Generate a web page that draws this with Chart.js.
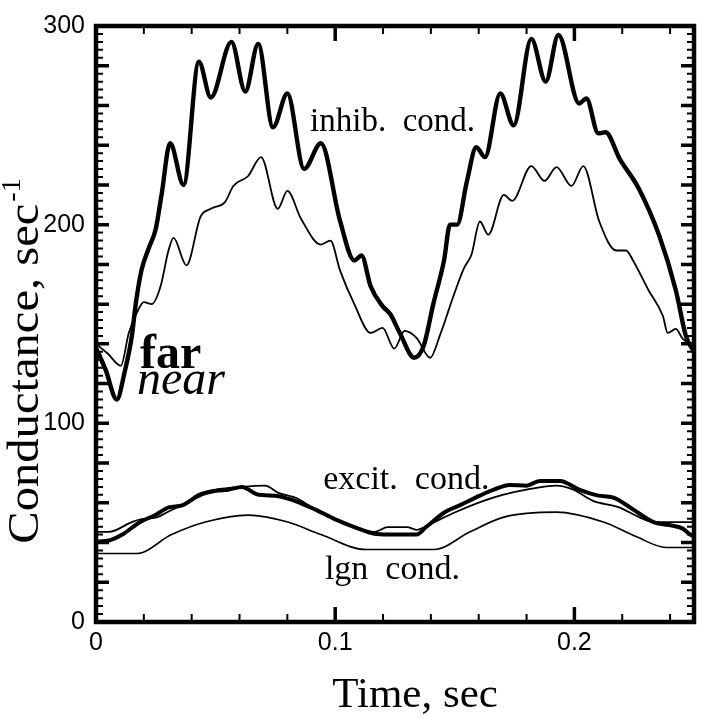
<!DOCTYPE html>
<html>
<head>
<meta charset="utf-8">
<script src="https://cdn.jsdelivr.net/npm/chart.js@4.4.1/dist/chart.umd.min.js"></script>
<style>
  body { margin: 0; background: #fff; }
</style>
</head>
<body>
<canvas id="chart" width="703" height="719"></canvas>
<script>
// [time (sec), conductance (1/sec)]
const inhibFar = [
  [0, 138], [0.004, 127], [0.0087, 112], [0.012, 126], [0.015, 144], [0.0166, 160],
  [0.019, 177], [0.022, 188], [0.025, 198], [0.0274, 215], [0.031, 241], [0.0366, 220],
  [0.043, 282], [0.048, 264], [0.0566, 292], [0.0624, 267], [0.0678, 291], [0.074, 249],
  [0.080, 266], [0.087, 228], [0.094, 241], [0.102, 202], [0.108, 182], [0.111, 184.5],
  [0.1148, 169], [0.1198, 159], [0.123, 155], [0.127, 145.5], [0.133, 133], [0.137, 139],
  [0.141, 160], [0.1455, 182], [0.148, 200], [0.151, 200], [0.155, 221.5], [0.159, 239],
  [0.1626, 234], [0.169, 266], [0.1746, 250], [0.182, 293.5], [0.188, 272], [0.1933, 295.5],
  [0.202, 261], [0.205, 263.5], [0.210, 246], [0.213, 246.5], [0.219, 233], [0.227, 218],
  [0.2353, 195], [0.2424, 167], [0.2466, 144], [0.25, 136]
];
const inhibNear = [
  [0, 140], [0.005, 135], [0.0104, 129], [0.0137, 145.5], [0.018, 158], [0.020, 161],
  [0.0233, 160], [0.027, 169], [0.0303, 187], [0.0324, 193.4], [0.0378, 179.5], [0.0437, 204],
  [0.048, 208], [0.054, 211.5], [0.0574, 219.5], [0.0636, 224.5], [0.069, 234], [0.076, 208],
  [0.080, 217], [0.0857, 203], [0.094, 190], [0.098, 192], [0.102, 177], [0.108, 160],
  [0.1148, 145.5], [0.1198, 148], [0.1247, 137.6], [0.129, 146.5], [0.134, 143], [0.1397, 133],
  [0.1437, 144], [0.1497, 165], [0.1538, 178], [0.157, 185], [0.1605, 201.6], [0.164, 195],
  [0.1705, 215], [0.174, 212], [0.182, 229.5], [0.1875, 222], [0.1925, 229], [0.1988, 219.5],
  [0.2037, 229.5], [0.2104, 201.6], [0.2175, 187], [0.2216, 187], [0.2245, 182], [0.231, 167],
  [0.237, 154], [0.239, 145.5], [0.2424, 147.5], [0.2453, 142.5], [0.25, 139]
];
const excitFar = [
  [0, 40.5], [0.0054, 41], [0.011, 44], [0.018, 50], [0.025, 54], [0.0304, 57.7],
  [0.036, 58.7], [0.043, 63.6], [0.050, 66], [0.0553, 66.6], [0.061, 68], [0.068, 64],
  [0.075, 63.6], [0.083, 61], [0.0915, 56.7], [0.0998, 51.8], [0.108, 47.8], [0.1164, 44.4],
  [0.122, 44], [0.127, 44], [0.134, 44], [0.138, 47.8], [0.1455, 55], [0.152, 58.7],
  [0.1605, 63.6], [0.1663, 66.6], [0.173, 69], [0.180, 68.6], [0.1855, 71], [0.194, 71],
  [0.202, 66.6], [0.210, 63.6], [0.216, 62.7], [0.2245, 56.7], [0.233, 50.3], [0.2395, 48.8],
  [0.2453, 47], [0.248, 44.4], [0.25, 43]
];
const excitNear = [
  [0, 45.4], [0.0054, 45.4], [0.015, 50.3], [0.019, 51.8], [0.025, 52.5], [0.031, 56],
  [0.037, 59.5], [0.043, 64.5], [0.050, 66.6], [0.061, 68], [0.0707, 68.6], [0.0762, 65],
  [0.083, 62.7], [0.0915, 57], [0.0998, 52], [0.108, 48], [0.1164, 45.4], [0.122, 47.8],
  [0.130, 47.8], [0.134, 46.4], [0.1397, 49.3], [0.1497, 55], [0.162, 61], [0.170, 64],
  [0.180, 66.6], [0.1925, 68.6], [0.1995, 66.6], [0.2078, 61], [0.2187, 57.7], [0.227, 52.8],
  [0.233, 50.3], [0.2395, 50.3], [0.25, 50.3]
];
const lgn = [
  [0, 34.5], [0.017, 34.5], [0.0316, 44], [0.0457, 50.3], [0.0636, 53.8], [0.0802, 50.3],
  [0.094, 44], [0.1127, 36.5], [0.1414, 36.5], [0.1564, 45.4], [0.1705, 52.8], [0.1925, 55.3],
  [0.2121, 50.3], [0.2258, 43], [0.2383, 37.5], [0.25, 37.5]
];
const xLabelTicks = [0, 0.1, 0.2];
const yLabelTicks = [0, 100, 200, 300];

const serif = "'Liberation Serif', 'Times New Roman', Times, serif";
const sans = "'Liberation Sans Narrow', 'Liberation Sans', Arial, sans-serif";

function toPoints(rows) {
  return rows.map(r => ({ x: r[0], y: r[1] }));
}

function line(rows, width) {
  return {
    data: toPoints(rows),
    borderColor: '#000',
    borderWidth: width,
    pointRadius: 0,
    fill: false,
    cubicInterpolationMode: 'monotone'
  };
}

function drawText(ctx, text, x, y, font, opts) {
  ctx.save();
  ctx.font = font;
  ctx.fillStyle = '#000';
  ctx.textBaseline = 'alphabetic';
  ctx.textAlign = (opts && opts.align) || 'left';
  ctx.translate(x, y);
  if (opts && opts.rotate) ctx.rotate(opts.rotate);
  if (opts && opts.stretch) ctx.scale(opts.stretch, 1);
  ctx.fillText(text, 0, 0);
  ctx.restore();
}

// frame with inward ticks on all sides, plus the text labels
const framePlugin = {
  id: 'frame',
  afterDraw(chart) {
    const ctx = chart.ctx;
    const a = chart.chartArea;
    const xs = chart.scales.x;
    const ys = chart.scales.y;
    ctx.save();
    ctx.strokeStyle = '#000';
    ctx.lineCap = 'butt';

    for (let v = 0; v <= 300; v += 4) {
      const py = ys.getPixelForValue(v);
      const big = v % 20 === 0;
      ctx.lineWidth = big ? 3.5 : 2;
      const len = big ? 13 : 7;
      ctx.beginPath();
      ctx.moveTo(a.left, py); ctx.lineTo(a.left + len, py);
      ctx.moveTo(a.right, py); ctx.lineTo(a.right - len, py);
      ctx.stroke();
    }
    for (let i = 0; i <= 12; i++) {
      const px = xs.getPixelForValue(i * 0.02);
      const big = i % 5 === 0;
      ctx.lineWidth = big ? 3.5 : 2;
      const len = big ? 15 : 8;
      ctx.beginPath();
      ctx.moveTo(px, a.bottom); ctx.lineTo(px, a.bottom - len);
      ctx.moveTo(px, a.top); ctx.lineTo(px, a.top + len);
      ctx.stroke();
    }
    ctx.lineWidth = 4.5;
    ctx.strokeRect(a.left, a.top, a.right - a.left, a.bottom - a.top);
    ctx.restore();

    const X = v => xs.getPixelForValue(v);
    const Y = v => ys.getPixelForValue(v);
    drawText(ctx, 'inhib.  cond.', X(0.0895), Y(247), '33px ' + serif);
    drawText(ctx, 'excit.  cond.', X(0.095), Y(67), '34px ' + serif);
    drawText(ctx, 'lgn  cond.', X(0.0957), Y(21.6), '34px ' + serif);
    drawText(ctx, 'far', X(0.0184), Y(128), 'bold 48px ' + serif);
    drawText(ctx, 'near', X(0.0171), Y(115), 'italic 48px ' + serif);

    // axis titles
    drawText(ctx, 'Time, sec', 415, 707, '43px ' + serif, { align: 'center' });
    const main = 'Conductance, sec';
    ctx.save();
    ctx.font = '28px ' + serif;
    const supW = ctx.measureText('-1').width;
    ctx.font = '45px ' + serif;
    const mainW = ctx.measureText(main).width * 1.08;
    ctx.restore();
    const cy = 362, bx = 38;
    const start = cy + (mainW + supW) / 2;
    drawText(ctx, main, bx, start, '45px ' + serif, { rotate: -Math.PI / 2, stretch: 1.08 });
    drawText(ctx, '-1', bx - 18, start - mainW - 2, '28px ' + serif, { rotate: -Math.PI / 2 });
  }
};

new Chart(document.getElementById('chart'), {
  type: 'line',
  data: {
    datasets: [
      line(lgn, 1.6),
      line(excitNear, 1.8),
      line(inhibNear, 1.8),
      line(excitFar, 4),
      line(inhibFar, 4.4)
    ]
  },
  options: {
    responsive: false,
    animation: false,
    layout: { padding: { top: 12, right: 9, left: 0, bottom: 0 } },
    plugins: { legend: { display: false }, tooltip: { enabled: false } },
    scales: {
      x: {
        type: 'linear',
        min: 0,
        max: 0.25,
        grid: { display: false, drawTicks: false },
        border: { display: false },
        afterFit: s => { s.height = 97; },
        afterBuildTicks: s => { s.ticks = xLabelTicks.map(v => ({ value: v })); },
        ticks: {
          color: '#000',
          padding: 6,
          maxRotation: 0,
          font: { family: sans, size: 25 },
          callback: v => String(Math.round(v * 10) / 10)
        }
      },
      y: {
        min: 0,
        max: 300,
        grid: { display: false, drawTicks: false },
        border: { display: false },
        afterFit: s => { s.width = 96; },
        afterBuildTicks: s => { s.ticks = yLabelTicks.map(v => ({ value: v })); },
        ticks: {
          color: '#000',
          padding: 11,
          font: { family: sans, size: 25 }
        }
      }
    }
  },
  plugins: [framePlugin]
});
</script>
</body>
</html>
